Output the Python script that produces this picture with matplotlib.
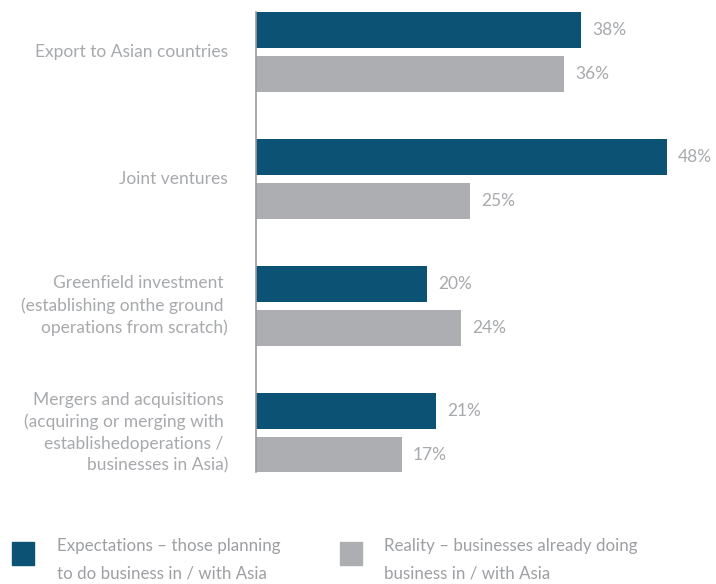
import matplotlib.pyplot as plt
from matplotlib.patches import Rectangle

# Entry modes and shares (%) for the two survey groups.
categories = [
    "Export to Asian countries",
    "Joint ventures",
    "Greenfield investment \n(establishing onthe ground \noperations from scratch)",
    "Mergers and acquisitions \n(acquiring or merging with \nestablishedoperations / \nbusinesses in Asia)",
]
expectations = [38, 48, 20, 21]
reality = [36, 25, 24, 17]
legend_labels = [
    "Expectations \u2013 those planning\nto do business in / with Asia",
    "Reality \u2013 businesses already doing\nbusiness in / with Asia",
]

BLUE = "#0b5274"
GREY = "#adaeb2"
TEXT = "#a7a9ac"

W, H = 716, 584
plt.rcParams["font.family"] = ["Lato", "DejaVu Sans"]

fig = plt.figure(figsize=(W / 100, H / 100), dpi=100)
# axes box in pixels: left edge is the baseline of the bars
left, right, top, bottom = 256, 716, 12, 472
ax = fig.add_axes([left / W, 1 - bottom / H, (right - left) / W, (bottom - top) / H])

px_per_pct = 8.56
ax.set_xlim(0, (right - left) / px_per_pct)
ax.set_ylim(3.311, -0.315)

bar_h = 36 / 127
off = 22 / 127
ys = list(range(len(categories)))
ax.barh([y - off for y in ys], expectations, height=bar_h, color=BLUE)
ax.barh([y + off for y in ys], reality, height=bar_h, color=GREY)

pad = 11 / px_per_pct
for y, e, r in zip(ys, expectations, reality):
    ax.text(e + pad, y - off, f"{e}%", va="center", ha="left", fontsize=12.5, color=TEXT)
    ax.text(r + pad, y + off, f"{r}%", va="center", ha="left", fontsize=12.5, color=TEXT)

lab_x = -28 / px_per_pct
for y, lab in zip(ys, categories):
    ax.text(lab_x, y, lab, va="center", ha="right", fontsize=12.5, color=TEXT,
            linespacing=1.43, clip_on=False)

for s in ("top", "right", "bottom"):
    ax.spines[s].set_visible(False)
ax.spines["left"].set_color("#9a9b9f")
ax.spines["left"].set_linewidth(1.2)
ax.set_xticks([])
ax.set_yticks([])

# legend: squares and two-line captions along the bottom
for (sx, tx), color, lab in zip([(12, 57), (340, 384)], [BLUE, GREY], legend_labels):
    fig.patches.append(Rectangle((sx / W, 1 - 565 / H), 22 / W, 23 / H,
                                 transform=fig.transFigure, color=color))
    fig.text(tx / W, 1 - 560 / H, lab, va="center", ha="left", fontsize=12.2,
             color="#9d9fa2", linespacing=1.9)

fig.savefig("out.png", dpi=100)
